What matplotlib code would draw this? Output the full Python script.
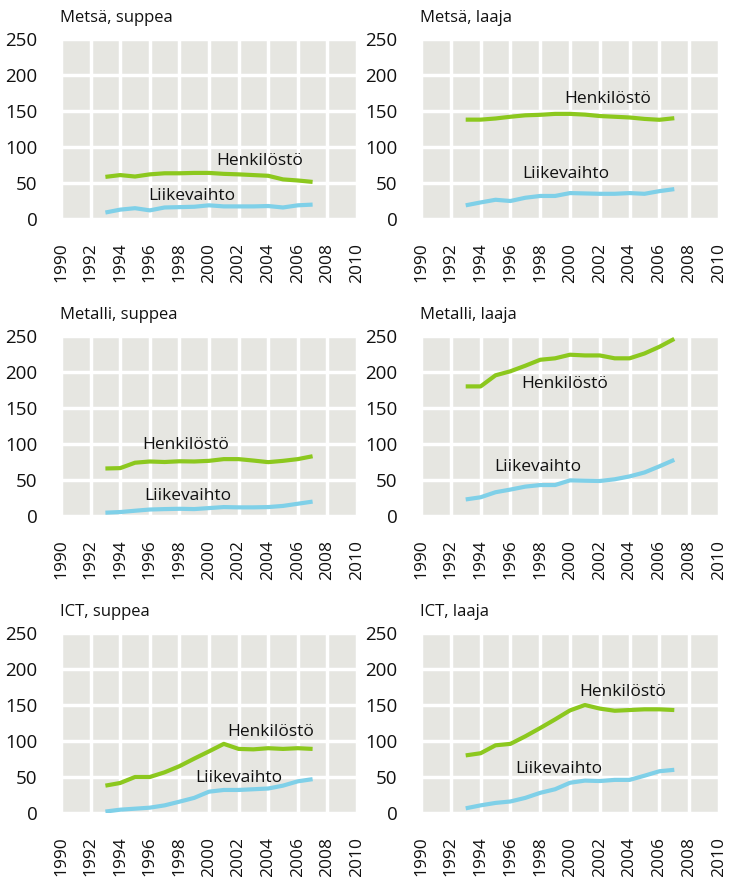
import numpy as np
import matplotlib
matplotlib.use("Agg")
import matplotlib.pyplot as plt

plt.rcParams['font.family'] = ['Open Sans', 'DejaVu Sans']

years = list(range(1993, 2008))

# Metsä
metsa_suppea_henk = [58.5, 61, 59, 62, 63.5, 63.5, 64, 64, 62.7, 62, 61, 60, 55, 53.5, 51.5]
metsa_suppea_liike = [9, 13, 15, 12, 16, 16.5, 17, 19, 17.5, 17.5, 17.5, 18, 16, 19, 20]
metsa_laaja_henk = [138, 138, 139.6, 142, 144, 144.7, 146, 146, 145, 143, 142, 141, 139, 137.8, 140]
metsa_laaja_liike = [19, 23, 26.7, 25, 29.5, 32, 32, 36, 35.5, 35, 35, 36, 35, 38.7, 41.5]

# Metalli
metalli_suppea_henk = [66, 66.5, 74, 75.7, 75, 76, 75.7, 76.6, 79, 79, 77, 74.8, 76.6, 79, 83]
metalli_suppea_liike = [4.6, 5.5, 7.3, 9, 9.6, 10, 9.6, 11, 12.4, 12, 12, 12.4, 14, 17, 20]
metalli_laaja_henk = [180, 180, 195.4, 201, 208.7, 217, 219, 224, 223, 223, 219, 219, 225.7, 235, 246]
metalli_laaja_liike = [23, 26, 33, 36.7, 40.8, 43, 43, 49.5, 49, 48.6, 51, 55, 60.5, 69, 78]

# ICT
ict_suppea_henk = [38, 41.7, 50, 50, 56.5, 65, 75.5, 85.6, 96, 89, 88.4, 90, 89, 90, 89]
ict_suppea_liike = [2, 4.6, 6, 7.4, 10.6, 15.7, 21, 29.6, 32, 32, 33, 34, 38, 44, 47]
ict_laaja_henk = [80, 83, 94, 96, 106.5, 118, 130, 142.5, 150, 145, 142, 143, 144, 144, 143]
ict_laaja_liike = [6.5, 10.6, 14, 16, 21, 28, 33, 42, 45, 44.4, 46, 46, 51.8, 58, 60]

titles = ["Metsä, suppea", "Metsä, laaja", "Metalli, suppea",
          "Metalli, laaja", "ICT, suppea", "ICT, laaja"]
henk_series = [metsa_suppea_henk, metsa_laaja_henk, metalli_suppea_henk,
               metalli_laaja_henk, ict_suppea_henk, ict_laaja_henk]
liike_series = [metsa_suppea_liike, metsa_laaja_liike, metalli_suppea_liike,
                metalli_laaja_liike, ict_suppea_liike, ict_laaja_liike]

# label anchor points (x, y) in data units
henk_pos = [(2000.5, 80), (1999.6, 166), (1995.5, 98.6),
            (1996.7, 183.5), (2001.2, 112.5), (2000.65, 168)]
liike_pos = [(1995.9, 32), (1996.8, 62), (1995.6, 28.4),
             (1994.9, 67.4), (1999.1, 48.6), (1996.3, 61.6)]

GREEN = "#8cc81e"
BLUE = "#7fd0e8"
BG = "#e6e6e1"
TXT = "#111111"

fig = plt.figure(figsize=(7.34, 8.77), dpi=100)

lefts = [61 / 734, 421 / 734]
widths = [296 / 734, 298 / 734]
tops = [39, 336, 633]
h = 180 / 877

for i in range(6):
    r, c = divmod(i, 2)
    bottom = 1 - (tops[r] + 180) / 877
    ax = fig.add_axes([lefts[c], bottom, widths[c], h])
    ax.set_facecolor(BG)
    for s in ax.spines.values():
        s.set_visible(False)

    ax.plot(years, henk_series[i], color=GREEN, lw=3, solid_capstyle='butt', zorder=3)
    ax.plot(years, liike_series[i], color=BLUE, lw=3, solid_capstyle='butt', zorder=3)

    ax.text(henk_pos[i][0], henk_pos[i][1], "Henkilöstö", fontsize=12.5,
            ha='left', va='center', color=TXT, zorder=4)
    ax.text(liike_pos[i][0], liike_pos[i][1], "Liikevaihto", fontsize=12.5,
            ha='left', va='center', color=TXT, zorder=4)

    ax.set_xlim(1990, 2010)
    ax.set_ylim(0, 250)
    ax.set_xticks(range(1990, 2011, 2))
    ax.set_yticks(range(0, 251, 50))
    ax.grid(True, color='white', lw=2.5, zorder=1)
    ax.set_axisbelow(True)
    ax.tick_params(length=0, labelsize=13.5, colors=TXT)
    ax.tick_params(axis='y', pad=17)
    ax.tick_params(axis='x', pad=17, labelsize=12.5)
    for lab in ax.get_xticklabels():
        lab.set_rotation(90)
    ax.set_title(titles[i], loc='left', fontsize=12, pad=12, color=TXT, x=-0.005)

fig.savefig("out.png", dpi=100)
